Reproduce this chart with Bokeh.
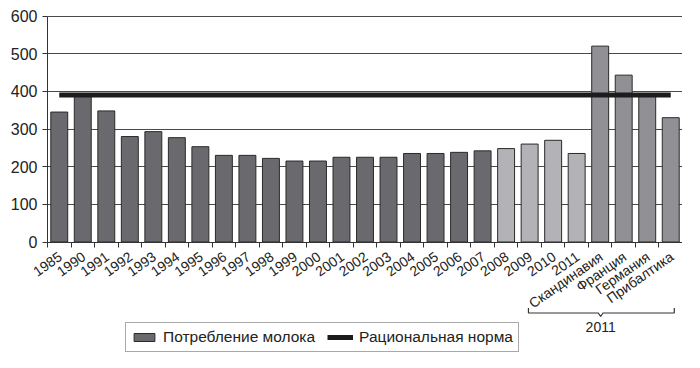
import math
import numpy as np
from bokeh.plotting import figure
from bokeh.models import Range1d, FixedTicker, Legend, LegendItem, ColumnDataSource
from bokeh.embed import file_html
from bokeh.resources import INLINE
from bokeh.core.properties import value

# ---------------- data ----------------
categories = ["1985", "1990", "1991", "1992", "1993", "1994", "1995", "1996",
              "1997", "1998", "1999", "2000", "2001", "2002", "2003", "2004",
              "2005", "2006", "2007", "2008", "2009", "2010", "2011",
              "Скандинавия", "Франция", "Германия", "Прибалтика"]
milk = [345, 387, 348, 280, 293, 277, 253, 230,
        230, 222, 215, 215, 225, 225, 225, 235,
        235, 238, 242, 248, 260, 270, 235,
        520, 443, 393, 330]
group = (["fact"] * 19) + (["recent"] * 4) + (["abroad"] * 4)
norm = 390
y_ticks = [0, 100, 200, 300, 400, 500, 600]
bracket_label = "2011"
legend_labels = ["Потребление молока", "Рациональная норма"]

# ---------------- style / layout ----------------
FONT = "Liberation Sans"
TXT = "#222222"
colors = {"fact": "#6a6a6e", "recent": "#b3b3b7", "abroad": "#919195"}

n = len(categories)
xc = np.arange(n) + 0.5
YMAX = max(y_ticks)

PXX = 635 / n            # pixels per category
PXY = 226 / YMAX         # pixels per unit on y
LEFT_PAD = 47            # room for y labels (inside the frame)
TOP_PAD = 15.5
FW = 682
FH = 361
XL = -LEFT_PAD / PXX
XR = XL + FW / PXX
YT = YMAX + TOP_PAD / PXY
YB = YT - FH / PXY
LBL_SHIFT = 1 / PXX      # tick labels sit at the bar centres

src = ColumnDataSource(dict(x=xc, milk=milk, color=[colors[g] for g in group]))

p = figure(frame_width=FW, frame_height=FH,
           x_range=Range1d(XL, XR), y_range=Range1d(YB, YT),
           output_backend="svg", toolbar_location=None,
           min_border=0)
p.outline_line_color = None
p.background_fill_color = "white"
p.xgrid.visible = False

yt = FixedTicker(ticks=y_ticks)
p.yaxis.ticker = yt
p.ygrid.ticker = yt
p.ygrid.grid_line_color = "#4a4a4a"
p.ygrid.grid_line_width = 1
if "cross_bounds" in p.ygrid.properties():
    p.ygrid.cross_bounds = (0, n)
else:
    p.ygrid.visible = False
    p.segment(x0=[0] * len(y_ticks), x1=[n] * len(y_ticks), y0=y_ticks,
              y1=y_ticks, line_color="#4a4a4a", line_width=1, level="underlay")

bars = p.vbar(x="x", top="milk", bottom=0, width=0.72, source=src,
              fill_color="color", line_color="#2a2a2a", line_width=1)
norm_line = p.line(x=[xc[0], xc[-1]], y=[norm, norm], line_width=5,
                   line_color="#1c1c1c", line_cap="butt")

# y axis at x = 0
p.yaxis.fixed_location = 0
p.yaxis.bounds = (0, YMAX)
p.yaxis.axis_line_color = "#333333"
p.yaxis.major_tick_out = 5
p.yaxis.major_tick_in = 0
p.yaxis.minor_tick_line_color = None
p.yaxis.major_tick_line_color = "#333333"
p.yaxis.major_label_standoff = 5
p.yaxis.major_label_text_font = FONT
p.yaxis.major_label_text_font_size = "16px"
p.yaxis.major_label_text_color = TXT

# x axis at y = 0: labels at centres, ticks at category boundaries
label_pos = [float(x + LBL_SHIFT) for x in xc]
p.xaxis.fixed_location = 0
p.xaxis.bounds = (0, n)
p.xaxis.ticker = FixedTicker(ticks=label_pos, minor_ticks=list(range(n + 1)))
p.xaxis.major_label_overrides = {x: c for x, c in zip(label_pos, categories)}
p.xaxis.major_tick_line_color = None
p.xaxis.major_tick_out = 0
p.xaxis.major_tick_in = 0
p.xaxis.minor_tick_out = 5
p.xaxis.minor_tick_in = 0
p.xaxis.minor_tick_line_color = "#333333"
p.xaxis.axis_line_color = "#333333"
p.xaxis.major_label_orientation = math.radians(35)
p.xaxis.major_label_standoff = 8
p.xaxis.major_label_text_font = FONT
p.xaxis.major_label_text_font_size = "14px"
p.xaxis.major_label_text_color = TXT

# bracket grouping the country bars, under the label area
first_country = categories.index("Скандинавия")
bx0 = first_country - 2.55
bx1 = n - 0.35
bmid = first_country + 0.52
y_end = -66 / PXY
y_h = -71 / PXY
y_tick = -74.5 / PXY
p.line(x=[bx0, bx0, bmid - 0.1, bmid, bmid + 0.1, bx1, bx1],
       y=[y_end, y_h, y_h, y_tick, y_h, y_h, y_end],
       line_color="#333333", line_width=1.2)
p.text(x=[bmid], y=[-85 / PXY], text=[bracket_label], text_align="center",
       text_baseline="middle", text_font=value(FONT), text_font_size="14px",
       text_color=TXT)

legend = Legend(items=[LegendItem(label=legend_labels[0], renderers=[bars], index=0),
                       LegendItem(label=legend_labels[1], renderers=[norm_line])],
                location=(125, 9), orientation="horizontal")
legend.border_line_color = "#555555"
legend.border_line_width = 1
legend.background_fill_color = "white"
legend.background_fill_alpha = 1
legend.padding = 5
legend.spacing = 12
legend.margin = 0
legend.glyph_width = 26
legend.glyph_height = 10
legend.label_standoff = 6
legend.label_height = 18
legend.label_text_font = FONT
legend.label_text_font_size = "15.5px"
legend.label_text_color = TXT
legend.label_text_baseline = "middle"
p.add_layout(legend)

open("out.html", "w").write(file_html(p, INLINE))
